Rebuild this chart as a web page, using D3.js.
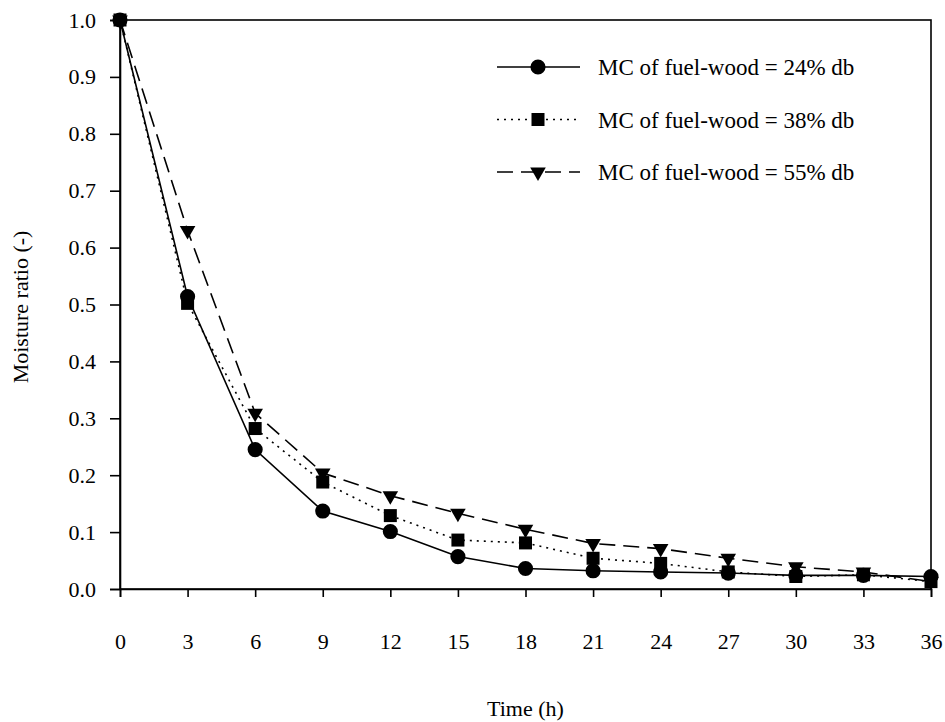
<!DOCTYPE html>
<html>
<head>
<meta charset="utf-8">
<script src="https://cdn.jsdelivr.net/npm/d3@7"></script>
<style>
    body { margin: 0; background: #fff; }
    text { font-family: "Liberation Serif", "Times New Roman", serif; fill: #000; }
</style>
</head>
<body>
<div id="plot"></div>
<script>

var timeHours = [0, 3, 6, 9, 12, 15, 18, 21, 24, 27, 30, 33, 36];

var mc24 = [1.0, 0.514, 0.245, 0.137, 0.101, 0.057, 0.036, 0.032, 0.030, 0.028, 0.024, 0.024, 0.022];
var mc38 = [1.0, 0.502, 0.282, 0.188, 0.129, 0.086, 0.081, 0.054, 0.045, 0.030, 0.022, 0.025, 0.013];
var mc55 = [1.0, 0.630, 0.309, 0.204, 0.164, 0.133, 0.105, 0.080, 0.071, 0.054, 0.039, 0.030, 0.013];

var seriesNames = ["MC of fuel-wood = 24% db", "MC of fuel-wood = 38% db", "MC of fuel-wood = 55% db"];

var xTicks = [0, 3, 6, 9, 12, 15, 18, 21, 24, 27, 30, 33, 36];
var yTicks = [0, 0.1, 0.2, 0.3, 0.4, 0.5, 0.6, 0.7, 0.8, 0.9, 1.0];

window.onload = function(){

    buildChart();

};

function buildChart(){

    var margin = {
        left:120,
        top:20,
        right:14,
        bottom:133
    };

    var width = 945 - margin.left - margin.right;
    var height = 722 - margin.top - margin.bottom;

    var xScale = d3.scaleLinear()
    .domain([0,36])
    .range([0,width]);

    var yScale = d3.scaleLinear()
    .domain([0,1])
    .range([height,0]);

    var svg = d3.select("#plot")
                .append("svg")
                .attr("width",945)
                .attr("height",722)
                .append("g")
                .attr("transform","translate(" + margin.left + "," + margin.top + ")");

    // frame
    svg.append("rect")
    .attr("x",0)
    .attr("y",0)
    .attr("width",width)
    .attr("height",height)
    .style("fill","none")
    .style("stroke","#000")
    .style("stroke-width",1.6);

    var xAxis = svg.append("g")
    .attr("transform","translate(0," + height + ")")
    .call(d3.axisBottom(xScale).tickValues(xTicks).tickSize(8).tickPadding(36).tickFormat(d3.format("d")));

    var yAxis = svg.append("g")
    .call(d3.axisLeft(yScale).tickValues(yTicks).tickSize(10).tickPadding(14).tickFormat(d3.format(".1f")));

    [xAxis, yAxis].forEach(a => {
        a.select(".domain").style("stroke","#000").style("stroke-width",1.6);
        a.selectAll(".tick line").style("stroke","#000").style("stroke-width",1.6);
        a.selectAll(".tick text")
        .style("font-family",'"Liberation Serif", "Times New Roman", serif')
        .style("font-size","22px")
        .style("fill","#000");
    });

    svg.append("text")
    .attr("x",width/2)
    .attr("y",height + 127)
    .attr("text-anchor","middle")
    .style("font-size","22px")
    .text("Time (h)");

    svg.append("text")
    .attr("transform","translate(" + (28 - margin.left) + "," + (307 - margin.top) + ") rotate(-90)")
    .attr("text-anchor","middle")
    .style("font-size","22px")
    .text("Moisture ratio (-)");

    var series = [
        {name: seriesNames[0], values: mc24, dash: null, symbol: d3.symbolCircle, size: 180, rotate: 0},
        {name: seriesNames[1], values: mc38, dash: "2,5", symbol: d3.symbolSquare, size: 169, rotate: 0},
        {name: seriesNames[2], values: mc55, dash: "16,8", symbol: d3.symbolTriangle, size: 105, rotate: 180}
    ];

    var line = d3.line()
    .x(d => xScale(d.t))
    .y(d => yScale(d.v));

    series.forEach(s => {

        var points = timeHours.map((t,i) => ({t: t, v: s.values[i]}));

        svg.append("path")
        .datum(points)
        .attr("d",line)
        .style("fill","none")
        .style("stroke","#000")
        .style("stroke-width",1.6)
        .style("stroke-dasharray",s.dash);

        svg.append("g")
        .selectAll("path")
        .data(points)
        .enter()
        .append("path")
        .attr("d",d3.symbol().type(s.symbol).size(s.size))
        .attr("transform",d => "translate(" + xScale(d.t) + "," + yScale(d.v) + ") rotate(" + s.rotate + ")")
        .style("fill","#000");

    });

    // legend
    var legend = svg.append("g")
    .attr("transform","translate(" + (497 - margin.left) + "," + (67 - margin.top) + ")");

    series.forEach((s,i) => {

        var row = legend.append("g")
        .attr("transform","translate(0," + (i * 52.5) + ")");

        row.append("line")
        .attr("x1",0)
        .attr("x2",83)
        .attr("y1",0)
        .attr("y2",0)
        .style("stroke","#000")
        .style("stroke-width",1.6)
        .style("stroke-dasharray",s.dash);

        row.append("path")
        .attr("d",d3.symbol().type(s.symbol).size(s.size))
        .attr("transform","translate(41,0) rotate(" + s.rotate + ")")
        .style("fill","#000");

        row.append("text")
        .attr("x",101)
        .attr("y",8)
        .style("font-size","23px")
        .text(s.name);

    });

}

</script>
</body>
</html>
